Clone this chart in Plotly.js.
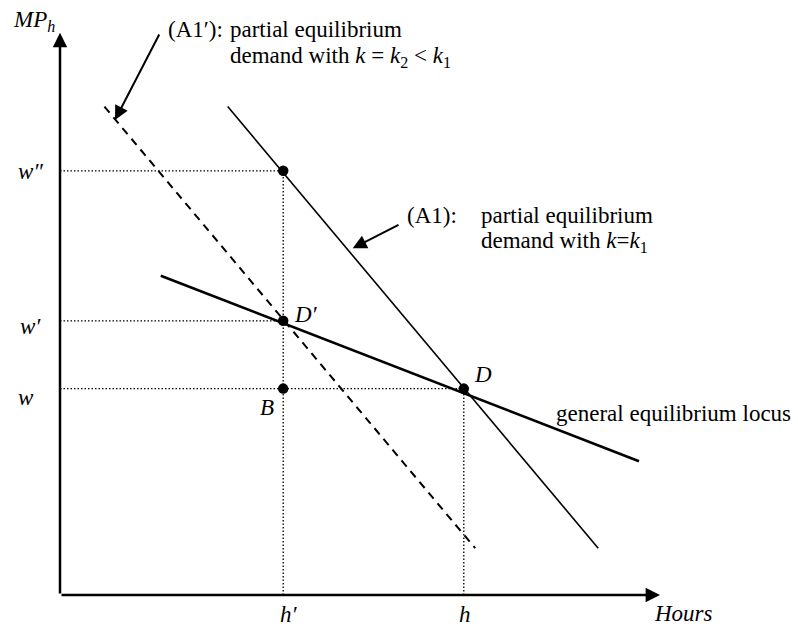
<!DOCTYPE html>
<html>
<head>
<meta charset="utf-8">
<script src="https://cdn.plot.ly/plotly-3.0.1.min.js"></script>
<style>html,body{margin:0;padding:0;background:#fff;}#chart{width:798px;height:627px;}</style>
</head>
<body>
<div id="chart"></div>
<script>
// ---- data ----
const hourTicks = [3.72, 6.73];           // h', h
const hourTickLabels = ['h′', 'h'];
const wageTicks = [3.44, 4.57, 7.07];     // w, w', w''
const wageTickLabels = ['w', 'w′', 'w″'];

const a1Hours = [2.795, 8.97];            // partial equilibrium demand, k = k1
const a1MP = [8.14, 0.78];
const a1pHours = [0.74, 6.92];            // partial equilibrium demand, k = k2 < k1
const a1pMP = [8.14, 0.78];
const geHours = [1.68, 9.65];             // general equilibrium locus
const geMP = [5.32, 2.23];

const pointHours = [3.72, 3.72, 3.72, 6.73];
const pointMP = [7.07, 4.57, 3.44, 3.44];

const axisMaxHours = 10;
const axisMaxMP = 9.37;

// ---- helpers: pixel position -> data coordinate (for label placement) ----
const S = 60, X0 = 60, Y0 = 595;
const px = p => (p - X0) / S;
const py = p => (Y0 - p) / S;

const FONT = 'Liberation Serif, Times New Roman, serif';
const FS = 23;

// dotted guide lines built from the data
const hP = hourTicks[0], h = hourTicks[1];
const w = wageTicks[0], wP = wageTicks[1], wPP = wageTicks[2];
const dotX = [0, hP, null, 0, hP, null, 0, h, null, hP, hP, null, h, h];
const dotY = [wPP, wPP, null, wP, wP, null, w, w, null, 0, wPP, null, 0, w];

const traces = [
  {x: dotX, y: dotY, mode: 'lines', line: {color: '#000', width: 1.3, dash: '1.5px,2px'}, hoverinfo: 'skip'},
  {x: a1pHours, y: a1pMP, mode: 'lines', line: {color: '#000', width: 2, dash: '8px,6px'}, hoverinfo: 'skip'},
  {x: a1Hours, y: a1MP, mode: 'lines', line: {color: '#000', width: 1.6}, hoverinfo: 'skip'},
  {x: geHours, y: geMP, mode: 'lines', line: {color: '#000', width: 2.6}, hoverinfo: 'skip'},
  {x: pointHours, y: pointMP, mode: 'markers', marker: {color: '#000', size: 10.5}, hoverinfo: 'skip'}
];

function txt(text, x, y, opts) {
  return Object.assign({
    text: text, x: x, y: y, xref: 'x', yref: 'y', showarrow: false,
    xanchor: 'left', yanchor: 'middle',
    font: {family: FONT, size: FS, color: '#000'}
  }, opts || {});
}
function arrow(x, y, ax, ay, width, size) {
  return {
    text: '', x: x, y: y, ax: ax, ay: ay, xref: 'x', yref: 'y', axref: 'x', ayref: 'y',
    showarrow: true, arrowhead: 2, arrowwidth: width, arrowsize: size, arrowcolor: '#000', standoff: 0
  };
}

const annotations = [
  // axes
  arrow(0, axisMaxMP, 0, 0, 2.5, 1.15),
  arrow(axisMaxHours, 0, 0, 0, 2.5, 1.15),
  // callout arrows
  arrow(px(115), py(120), px(160), py(33), 2, 1.4),
  arrow(px(352.7), py(248.3), px(400), py(224), 2, 1.4),
  // axis titles
  txt('<i>MP<sub>h</sub></i>', px(11), py(21)),
  txt('<i>Hours</i>', px(652), py(613)),
  // tick labels
  txt('<i>' + hourTickLabels[0] + '</i>', hP, 0, {xanchor: 'center', yshift: -19, xshift: 6}),
  txt('<i>' + hourTickLabels[1] + '</i>', h, 0, {xanchor: 'center', yshift: -19, xshift: 1}),
  txt('<i>' + wageTickLabels[0] + '</i>', 0, w, {xanchor: 'center', xshift: -34, yshift: -9}),
  txt('<i>' + wageTickLabels[1] + '</i>', 0, wP, {xanchor: 'center', xshift: -30, yshift: -6}),
  txt('<i>' + wageTickLabels[2] + '</i>', 0, wPP, {xanchor: 'center', xshift: -30, yshift: -1}),
  // point labels
  txt('<i>D′</i>', pointHours[1], pointMP[1], {xshift: 9, yshift: 6}),
  txt('<i>B</i>', pointHours[2], pointMP[2], {xanchor: 'center', xshift: -16, yshift: -19}),
  txt('<i>D</i>', pointHours[3], pointMP[3], {xshift: 8, yshift: 14}),
  // curve labels
  txt('(A1′):', px(166), py(29)),
  txt('partial equilibrium', px(228), py(29)),
  txt('demand with <i>k</i> = <i>k</i><sub>2</sub> &lt; <i>k</i><sub>1</sub>', px(228), py(57)),
  txt('(A1):', px(405), py(215)),
  txt('partial equilibrium', px(479), py(215)),
  txt('demand with <i>k</i>=<i>k</i><sub>1</sub>', px(479), py(242)),
  txt('general equilibrium locus', px(554), py(413))
];

const layout = {
  width: 798, height: 627,
  margin: {l: 0, r: 0, t: 0, b: 0},
  paper_bgcolor: '#fff', plot_bgcolor: '#fff',
  showlegend: false,
  xaxis: {range: [px(0), px(798)], visible: false, showgrid: false, zeroline: false, fixedrange: true},
  yaxis: {range: [py(627), py(0)], visible: false, showgrid: false, zeroline: false, fixedrange: true},
  annotations: annotations
};

Plotly.newPlot('chart', traces, layout, {displayModeBar: false, staticPlot: true});
</script>
</body>
</html>
